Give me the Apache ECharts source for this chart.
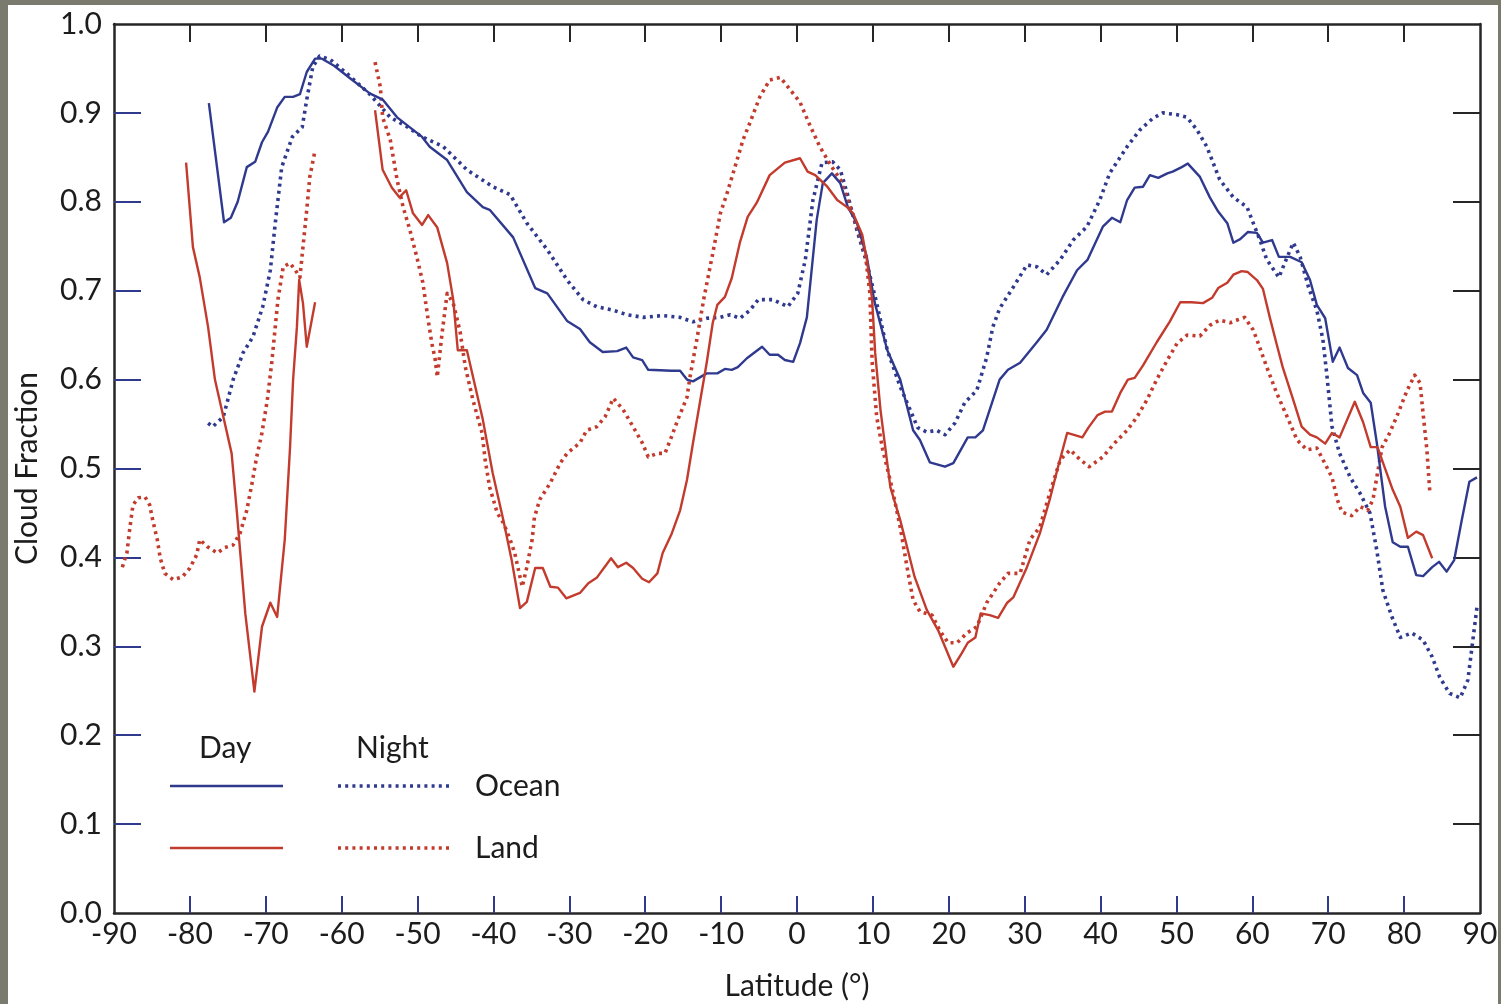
<!DOCTYPE html>
<html><head><meta charset="utf-8">
<script src="https://cdn.jsdelivr.net/npm/echarts@6/dist/echarts.min.js"></script>
<style>
html,body{margin:0;padding:0;background:#7a7b6e;width:1501px;height:1004px;overflow:hidden}
#c{position:absolute;left:8px;top:5px;width:1490px;height:999px;background:#fff}
</style></head><body><div id="c"></div>
<script>
// [latitude, cloud fraction]; null breaks a line
const dayOcean = [[-77.5,0.911],[-75.5,0.777],[-74.6,0.782],[-73.7,0.800],[-72.5,0.839],[-71.4,0.845],[-70.5,0.867],[-69.7,0.879],[-68.5,0.906],[-67.5,0.918],[-66.4,0.918],[-65.5,0.921],[-64.6,0.946],[-63.5,0.961],[-62.6,0.961],[-61,0.953],[-58.9,0.939],[-56.3,0.922],[-54.6,0.915],[-52.7,0.895],[-49.4,0.873],[-48.4,0.862],[-46.1,0.847],[-43.5,0.811],[-41.4,0.794],[-40.5,0.791],[-37.4,0.760],[-34.5,0.703],[-32.9,0.697],[-30.3,0.666],[-28.6,0.657],[-27.3,0.642],[-25.6,0.631],[-23.7,0.632],[-22.5,0.636],[-21.6,0.625],[-20.4,0.622],[-19.6,0.611],[-16.5,0.610],[-15.4,0.610],[-14.5,0.600],[-13.7,0.598],[-11.9,0.607],[-10.5,0.607],[-9.5,0.612],[-8.6,0.611],[-7.8,0.614],[-6.6,0.624],[-4.6,0.637],[-3.6,0.628],[-2.5,0.628],[-1.6,0.622],[-0.5,0.620],[0.4,0.641],[1.3,0.670],[2.6,0.780],[3.4,0.821],[4.6,0.832],[5.7,0.821],[6.7,0.794],[7.9,0.776],[9.2,0.738],[10.2,0.688],[11.9,0.633],[13.6,0.600],[15.3,0.543],[16.2,0.532],[17.5,0.507],[19.5,0.502],[20.6,0.506],[22.5,0.535],[23.5,0.535],[24.5,0.543],[26.7,0.600],[27.8,0.611],[29.4,0.619],[31.6,0.642],[32.9,0.656],[35.0,0.693],[36.9,0.723],[38.3,0.735],[40.3,0.772],[41.5,0.782],[42.6,0.777],[43.5,0.802],[44.5,0.816],[45.6,0.817],[46.5,0.830],[47.6,0.827],[48.8,0.832],[49.5,0.834],[50.7,0.839],[51.5,0.843],[53.1,0.828],[54.4,0.805],[55.5,0.789],[56.7,0.776],[57.5,0.754],[58.4,0.758],[59.4,0.766],[60.6,0.765],[61.4,0.754],[62.6,0.757],[63.5,0.738],[65.0,0.738],[66.5,0.732],[67.6,0.712],[68.5,0.684],[69.6,0.669],[70.6,0.620],[71.5,0.636],[72.6,0.613],[73.8,0.605],[74.6,0.585],[75.6,0.574],[76.4,0.529],[77.5,0.457],[78.5,0.417],[79.5,0.412],[80.5,0.412],[81.6,0.380],[82.5,0.379],[83.7,0.389],[84.6,0.395],[85.6,0.384],[86.6,0.397],[87.6,0.442],[88.6,0.485],[89.6,0.490]];

const nightOcean = [[-77.6,0.551],[-77.0,0.547],[-75.6,0.558],[-74.3,0.600],[-73.0,0.630],[-71.7,0.648],[-70.4,0.682],[-69.4,0.723],[-68.8,0.772],[-67.9,0.839],[-66.5,0.873],[-65.2,0.884],[-64.6,0.915],[-63.8,0.952],[-62.9,0.964],[-61.5,0.960],[-59,0.942],[-56.3,0.921],[-53.6,0.895],[-51.5,0.885],[-49.4,0.873],[-46.6,0.862],[-43.5,0.836],[-40.1,0.817],[-37.8,0.808],[-35.6,0.776],[-32.9,0.746],[-30.3,0.712],[-28.2,0.690],[-26.4,0.682],[-24.2,0.678],[-22.4,0.673],[-20.3,0.670],[-17.7,0.672],[-15.4,0.670],[-13.7,0.665],[-11.9,0.669],[-10.1,0.670],[-8.8,0.673],[-7.5,0.669],[-6.2,0.678],[-5.1,0.690],[-3.2,0.690],[-1.2,0.682],[0.1,0.697],[1.1,0.735],[2.1,0.802],[3.3,0.844],[4.7,0.845],[5.7,0.836],[6.6,0.810],[7.9,0.768],[9.2,0.731],[10.5,0.686],[11.9,0.633],[13.6,0.592],[14.9,0.566],[15.9,0.546],[17.1,0.541],[18.4,0.543],[19.5,0.538],[20.8,0.551],[22.1,0.574],[23.7,0.588],[25.0,0.625],[25.8,0.659],[26.7,0.680],[28.5,0.704],[30.3,0.729],[31.6,0.727],[32.9,0.718],[34.7,0.735],[36.4,0.757],[38.2,0.772],[39.9,0.802],[41.2,0.832],[43.5,0.862],[45.2,0.881],[46.9,0.894],[48.2,0.900],[50.1,0.898],[51.4,0.895],[52.7,0.881],[54.0,0.862],[55.7,0.825],[57.5,0.805],[59.3,0.794],[61.0,0.757],[61.9,0.735],[63.5,0.715],[64.6,0.738],[65.4,0.754],[66.3,0.738],[67.4,0.704],[68.5,0.678],[69.3,0.645],[69.8,0.607],[70.5,0.547],[71.5,0.517],[72.9,0.490],[74.2,0.472],[75.5,0.450],[76.4,0.408],[77.2,0.363],[78.4,0.333],[79.5,0.310],[81.0,0.315],[82.5,0.307],[83.7,0.288],[84.7,0.265],[86.0,0.247],[87.4,0.242],[88.4,0.262],[88.9,0.296],[89.6,0.344]];

const dayLand = [[-80.5,0.844],[-79.6,0.749],[-78.7,0.715],[-77.6,0.659],[-76.7,0.600],[-74.5,0.517],[-73.8,0.450],[-72.7,0.337],[-71.5,0.249],[-70.5,0.322],[-69.4,0.349],[-68.5,0.333],[-67.5,0.420],[-66.8,0.524],[-66.4,0.600],[-65.9,0.659],[-65.6,0.712],[-65.1,0.686],[-64.6,0.637],[-63.5,0.687],[-60,null],
[-55.6,0.903],[-54.6,0.836],[-53.4,0.816],[-52.4,0.805],[-51.5,0.813],[-50.6,0.787],[-49.4,0.774],[-48.6,0.785],[-47.4,0.771],[-46.1,0.731],[-45.3,0.690],[-44.7,0.633],[-43.5,0.633],[-41.4,0.555],[-40.1,0.495],[-38.7,0.442],[-37.6,0.397],[-36.5,0.343],[-35.6,0.350],[-34.5,0.388],[-33.5,0.388],[-32.5,0.367],[-31.5,0.366],[-30.4,0.354],[-28.6,0.360],[-27.5,0.371],[-26.4,0.377],[-24.5,0.399],[-23.6,0.389],[-22.5,0.394],[-21.6,0.388],[-20.4,0.376],[-19.5,0.372],[-18.4,0.382],[-17.7,0.405],[-16.5,0.427],[-15.4,0.453],[-14.5,0.487],[-13.7,0.529],[-12.8,0.574],[-11.9,0.619],[-11.1,0.664],[-10.5,0.684],[-9.5,0.693],[-8.6,0.714],[-7.5,0.755],[-6.5,0.783],[-5.3,0.799],[-3.6,0.830],[-1.6,0.844],[0.4,0.849],[1.4,0.834],[2.4,0.830],[4.0,0.817],[5.3,0.802],[6.6,0.794],[7.4,0.787],[8.6,0.763],[9.2,0.735],[9.9,0.690],[10.3,0.630],[11.0,0.566],[12.3,0.479],[13.6,0.442],[15.5,0.378],[17.1,0.341],[18.6,0.318],[20.6,0.277],[21.7,0.292],[22.5,0.304],[23.5,0.310],[24.2,0.337],[25.4,0.335],[26.5,0.332],[27.7,0.349],[28.5,0.355],[30.3,0.389],[32.0,0.427],[33.3,0.465],[34.4,0.502],[35.6,0.540],[37.6,0.535],[38.4,0.546],[39.6,0.560],[40.6,0.564],[41.5,0.564],[42.6,0.585],[43.6,0.600],[44.5,0.602],[45.6,0.616],[47.4,0.642],[49.1,0.665],[50.5,0.687],[52.0,0.687],[53.5,0.686],[54.7,0.692],[55.5,0.703],[56.7,0.709],[57.5,0.718],[58.6,0.722],[59.4,0.721],[60.6,0.712],[61.4,0.702],[62.3,0.670],[63.2,0.640],[64.0,0.614],[65.4,0.577],[66.5,0.547],[67.6,0.538],[68.5,0.535],[69.6,0.528],[70.5,0.540],[71.5,0.535],[73.5,0.575],[74.6,0.552],[75.6,0.524],[76.5,0.524],[77.2,0.507],[78.5,0.476],[79.5,0.457],[80.5,0.422],[81.6,0.429],[82.5,0.425],[83.7,0.399]];

const nightLand = [[-88.9,0.389],[-88.3,0.405],[-87.9,0.434],[-87.5,0.459],[-86.8,0.467],[-85.9,0.468],[-85.3,0.459],[-84.9,0.442],[-84.3,0.420],[-83.9,0.399],[-83.3,0.382],[-82.2,0.375],[-81.0,0.378],[-80.0,0.388],[-79.1,0.403],[-78.7,0.420],[-77.7,0.412],[-76.4,0.405],[-75.4,0.411],[-74.3,0.414],[-73.4,0.427],[-72.5,0.453],[-71.8,0.484],[-71.2,0.513],[-70.5,0.540],[-69.8,0.577],[-69.2,0.620],[-68.4,0.690],[-67.7,0.727],[-66.8,0.731],[-66.1,0.723],[-65.5,0.715],[-65.1,0.749],[-64.6,0.791],[-64.2,0.828],[-63.5,0.858],[-60,null],
[-55.6,0.957],[-54.9,0.929],[-54.6,0.895],[-53.6,0.870],[-52.7,0.825],[-51.9,0.794],[-51.0,0.768],[-50.1,0.738],[-49.3,0.709],[-48.6,0.667],[-48.1,0.640],[-47.7,0.624],[-47.4,0.603],[-46.8,0.650],[-46.1,0.697],[-45.3,0.686],[-44.4,0.654],[-43.7,0.614],[-42.7,0.577],[-41.5,0.540],[-41.1,0.510],[-40.5,0.479],[-39.5,0.450],[-38.7,0.439],[-37.8,0.420],[-37.2,0.405],[-36.5,0.378],[-36.2,0.367],[-35.6,0.389],[-34.9,0.420],[-34.6,0.445],[-33.9,0.465],[-32.5,0.484],[-31.2,0.506],[-30.3,0.517],[-28.6,0.529],[-27.7,0.543],[-26.4,0.547],[-25.3,0.558],[-24.2,0.579],[-22.9,0.566],[-21.6,0.547],[-20.4,0.529],[-19.6,0.513],[-18.4,0.517],[-17.4,0.517],[-16.7,0.532],[-15.7,0.555],[-14.5,0.580],[-14.1,0.603],[-13.2,0.645],[-12.3,0.690],[-11.1,0.742],[-10.1,0.787],[-9.2,0.810],[-7.9,0.847],[-7.1,0.870],[-6.2,0.889],[-4.9,0.918],[-3.6,0.937],[-2.2,0.940],[-0.9,0.926],[0.4,0.912],[1.7,0.886],[3.0,0.862],[4.6,0.839],[5.7,0.825],[6.7,0.802],[7.9,0.772],[9.0,0.742],[9.6,0.697],[9.9,0.620],[10.5,0.558],[11.3,0.521],[12.5,0.479],[13.6,0.434],[14.5,0.389],[15.3,0.352],[16.2,0.339],[17.8,0.335],[18.8,0.318],[19.9,0.304],[21.1,0.304],[22.4,0.315],[23.7,0.322],[25.0,0.349],[26.7,0.371],[27.8,0.382],[29.4,0.382],[30.7,0.420],[32.0,0.434],[33.3,0.472],[34.7,0.510],[36.0,0.521],[37.3,0.510],[38.5,0.502],[40.3,0.513],[41.9,0.529],[43.5,0.543],[44.8,0.558],[46.1,0.577],[47.4,0.600],[48.8,0.622],[50.1,0.641],[51.4,0.650],[53.1,0.649],[54.4,0.661],[55.7,0.667],[57.1,0.664],[58.0,0.667],[59.0,0.670],[60.1,0.656],[60.6,0.645],[61.9,0.614],[63.2,0.585],[64.6,0.558],[65.9,0.532],[67.2,0.521],[68.5,0.523],[69.3,0.510],[70.5,0.490],[71.2,0.465],[71.8,0.451],[73.1,0.447],[74.2,0.457],[75.2,0.453],[75.9,0.465],[76.5,0.495],[77.1,0.524],[78.1,0.540],[79.2,0.562],[80.4,0.588],[81.4,0.605],[82.1,0.596],[82.5,0.562],[83.0,0.521],[83.4,0.472]];

const legendRows = ['Ocean', 'Land'];
const legendCols = ['Day', 'Night'];
const xTickVals = [-80,-70,-60,-50,-40,-30,-20,-10,0,10,20,30,40,50,60,70,80];
const yTickVals = [0.1,0.2,0.3,0.4,0.5,0.6,0.7,0.8,0.9];

const BLUE = '#2f3a8f', RED = '#c23b2d', AX = '#262626', TXT = '#1c1c1c';
const FONT = 'Lato, "Open Sans", sans-serif';
const DOT = [3, 4.2];

const chart = echarts.init(document.getElementById('c'));
function mk(name, data, color, dotted) {
  return {
    name, type: 'line', data, xAxisIndex: 0, yAxisIndex: 0,
    showSymbol: false, symbol: 'none', smooth: false, connectNulls: false,
    animation: false, z: dotted ? 3 : 4,
    lineStyle: { color, width: dotted ? 3.6 : 2.4, type: dotted ? DOT : 'solid', cap: 'butt', join: 'round' }
  };
}
const txt = (x, y, s) => ({ type: 'text', x: x, y: y, style: { text: s, font: '30px ' + FONT, fill: TXT, textAlign: 'left', textVerticalAlign: 'middle' } });
const ln = (x1, x2, y, color, dotted) => ({ type: 'line', shape: { x1, y1: y, x2, y2: y }, style: { stroke: color, lineWidth: dotted ? 3.6 : 2.4, lineDash: dotted ? DOT : null } });

chart.setOption({
  animation: false,
  backgroundColor: '#fff',
  grid: { left: 106, right: 18, top: 19, bottom: 91, containLabel: false, outerBoundsMode: 'none' },
  xAxis: [
    { type: 'value', min: -90, max: 90, interval: 10, position: 'bottom',
      name: 'Latitude (°)', nameLocation: 'middle', nameGap: 58,
      nameTextStyle: { fontFamily: FONT, fontSize: 30, color: TXT },
      axisLine: { show: true, onZero: false, lineStyle: { color: AX, width: 2.5 } },
      axisTick: { show: true, inside: true, length: 17, customValues: xTickVals, lineStyle: { color: BLUE, width: 2 } },
      axisLabel: { fontFamily: FONT, fontSize: 30, color: TXT, margin: 6 },
      splitLine: { show: false } },
    { type: 'value', min: -90, max: 90, interval: 10, position: 'top',
      axisLine: { show: true, onZero: false, lineStyle: { color: AX, width: 2.5 } },
      axisTick: { show: true, inside: true, length: 18, customValues: xTickVals, lineStyle: { color: AX, width: 2 } },
      axisLabel: { show: false }, splitLine: { show: false } }
  ],
  yAxis: [
    { type: 'value', min: 0, max: 1, interval: 0.1, position: 'left',
      name: 'Cloud Fraction', nameLocation: 'middle', nameGap: 72, nameRotate: 90,
      nameTextStyle: { fontFamily: FONT, fontSize: 30, color: TXT },
      axisLine: { show: true, onZero: false, lineStyle: { color: AX, width: 2.5 } },
      axisTick: { show: true, inside: true, length: 27, customValues: yTickVals, lineStyle: { color: BLUE, width: 2 } },
      axisLabel: { fontFamily: FONT, fontSize: 30, color: TXT, margin: 12, formatter: v => v.toFixed(1) },
      splitLine: { show: false } },
    { type: 'value', min: 0, max: 1, interval: 0.1, position: 'right',
      axisLine: { show: true, onZero: false, lineStyle: { color: AX, width: 2.5 } },
      axisTick: { show: true, inside: true, length: 27, customValues: yTickVals, lineStyle: { color: AX, width: 2 } },
      axisLabel: { show: false }, splitLine: { show: false } }
  ],
  series: [
    mk('Day Ocean', dayOcean, BLUE, false),
    mk('Night Ocean', nightOcean, BLUE, true),
    mk('Day Land', dayLand, RED, false),
    mk('Night Land', nightLand, RED, true)
  ],
  graphic: [
    txt(191, 743, legendCols[0]), txt(348, 743, legendCols[1]),
    txt(467, 781, legendRows[0]), txt(467, 843, legendRows[1]),
    ln(162, 275, 781, BLUE, false), ln(330, 445, 781, BLUE, true),
    ln(162, 275, 843, RED, false), ln(330, 445, 843, RED, true)
  ]
});
</script></body></html>
